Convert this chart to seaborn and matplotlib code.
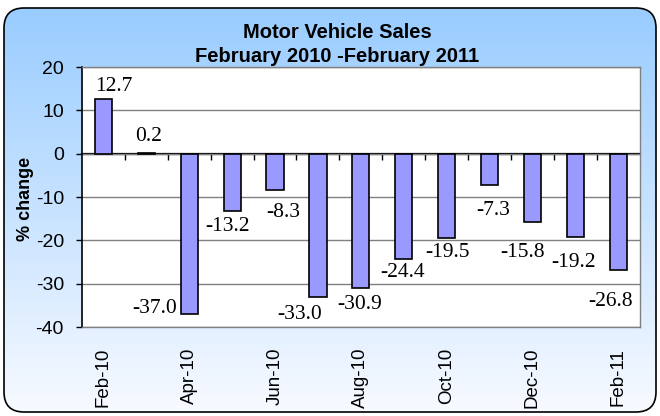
import matplotlib
matplotlib.use("Agg")
import matplotlib.pyplot as plt
from matplotlib.patches import FancyBboxPatch
import numpy as np
import seaborn as sns

months = ["Feb-10", "Mar-10", "Apr-10", "May-10", "Jun-10", "Jul-10", "Aug-10",
          "Sep-10", "Oct-10", "Nov-10", "Dec-10", "Jan-11", "Feb-11"]
changes = [12.7, 0.2, -37.0, -13.2, -8.3, -33.0, -30.9, -24.4, -19.5, -7.3, -15.8, -19.2, -26.8]

# where the value labels sit (hand placed in the original chart)
label_dx = [0.25, 0.05, -0.81, -0.10, 0.20, -0.42, -0.02, -0.03, 0.03, 0.09, -0.23, -0.04, -0.19]
label_y = [15.5, 3.9, -35.8, -16.9, -13.6, -37.2, -34.9, -27.5, -22.9, -13.2, -22.9, -25.2, -34.2]

sns.set_style("white")
sans = ["Liberation Sans", "DejaVu Sans"]
serif = ["Liberation Serif", "DejaVu Serif"]
plt.rcParams["font.family"] = sans
plt.rcParams["axes.unicode_minus"] = False
for key in ["text.color", "axes.labelcolor", "xtick.color", "ytick.color"]:
    plt.rcParams[key] = "black"

fig = plt.figure(figsize=(6.6, 4.16), dpi=100)
fig.patch.set_facecolor("white")

# rounded gradient background
bg = fig.add_axes([0, 0, 1, 1], zorder=0)
bg.set_xlim(0, 660)
bg.set_ylim(416, 0)
bg.axis("off")
t = np.linspace(0, 1, 256)[:, None]
top = np.array([0.60, 0.80, 1.0])
bottom = np.array([0.97, 0.98, 1.0])
grad = (top * (1 - t) + bottom * t)[:, None, :].repeat(2, axis=1)
im = bg.imshow(grad, extent=(4, 656, 412, 8), aspect="auto", interpolation="bilinear")
box = FancyBboxPatch((4, 8), 652, 404, boxstyle="round,pad=0,rounding_size=20",
                     facecolor="none", edgecolor="black", linewidth=1.2)
bg.add_patch(box)
im.set_clip_path(box)

ax = fig.add_axes([0.1242, 0.2139, 0.845, 0.625], zorder=1)
ax.set_facecolor("white")
sns.barplot(x=months, y=changes, ax=ax, color="#9999FF", saturation=1,
            edgecolor="black", linewidth=1.2, width=0.4)

ax.set_ylim(-40, 20)
ax.set_yticks(range(-40, 21, 10))
ax.yaxis.grid(True, color="#808080", linewidth=1)
ax.set_axisbelow(True)
for s in ["top", "right", "bottom"]:
    ax.spines[s].set_color("#808080")
    ax.spines[s].set_linewidth(1)
ax.spines["left"].set_color("black")
ax.spines["left"].set_linewidth(1.2)
ax.tick_params(axis="y", direction="out", length=4, width=1, color="black",
               labelsize=14, pad=9, left=True)
ax.set_xticks(range(0, 13, 2))
ax.set_xticklabels(months[::2], rotation=90, fontsize=13.5, va="top")
ax.tick_params(axis="x", length=0, pad=15)
ax.set_xlabel("")
ax.set_ylabel("")

# category axis crossing at zero
sec = ax.secondary_xaxis(2 / 3)
sec.set_xticks(np.arange(0.5, 12, 1), labels=[""] * 12)
sec.tick_params(direction="in", length=4, width=1, color="black")
sec.spines["top"].set_color("black")
sec.spines["top"].set_linewidth(1.6)

for i, v in enumerate(changes):
    ax.text(i + label_dx[i], label_y[i], f"{v:.1f}", ha="center", va="center",
            fontsize=15.5, family=serif, color="black")

fig.text(337 / 660, 1 - 33 / 416, "Motor Vehicle Sales", ha="center", va="center",
         fontsize=14.5, fontweight="bold")
fig.text(337 / 660, 1 - 57 / 416, "February 2010 -February 2011", ha="center", va="center",
         fontsize=14.5, fontweight="bold")
fig.text(26 / 660, 1 - 199 / 416, "% change", rotation=90, ha="center", va="center",
         fontsize=13, fontweight="bold")

fig.savefig("out.png", dpi=100)
